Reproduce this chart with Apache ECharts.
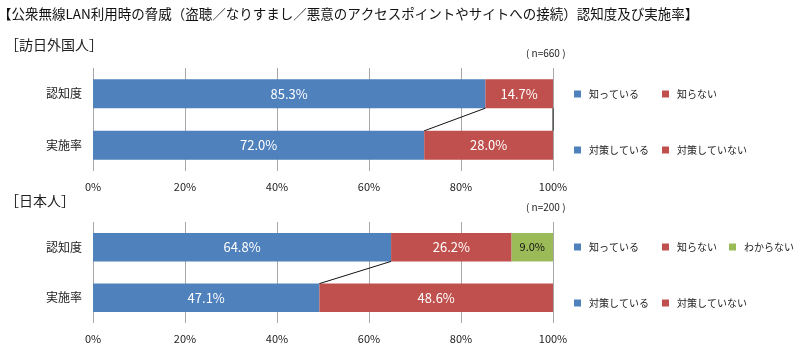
<!DOCTYPE html>
<html><head><meta charset="utf-8">
<script src="https://cdn.jsdelivr.net/npm/echarts@6/dist/echarts.min.js"></script>
<style>html,body{margin:0;padding:0;background:#fff}#c{width:800px;height:349px}</style>
</head><body><div id="c"></div>
<script>
const categories = ['認知度', '実施率'];
const xTicks = [0, 20, 40, 60, 80, 100];
// 訪日外国人 (n=660)
const foreignAwareNames = ['知っている', '知らない'];
const foreignAwareVals = [85.3, 14.7];
const foreignActionNames = ['対策している', '対策していない'];
const foreignActionVals = [72.0, 28.0];
// 日本人 (n=200)
const japanAwareNames = ['知っている', '知らない', 'わからない'];
const japanAwareVals = [64.8, 26.2, 9.0];
const japanActionNames = ['対策している', '対策していない'];
const japanActionVals = [47.1, 48.6];
// connector boundaries (segment index after which the series line is drawn)
const foreignConnect = [1, 2];
const japanConnect = [1];

const colors = {
  '知っている': '#4F81BD', '知らない': '#C0504D', 'わからない': '#9BBB59',
  '対策している': '#4F81BD', '対策していない': '#C0504D'
};
const FONT = '"Noto Sans CJK JP", "Noto Sans", sans-serif';

function shares(vals) {
  const s = vals.reduce((a, b) => a + b, 0);
  return vals.map(v => v / s * 100);
}
function cum(vals, k) {
  const sh = shares(vals);
  let t = 0; for (let i = 0; i < k; i++) t += sh[i];
  return t;
}

function rowSeries(names, vals, catIdx, gi) {
  const sh = shares(vals);
  return names.map((n, i) => {
    const data = categories.map((c, j) => j === catIdx ? { value: sh[i], raw: vals[i] } : '-');
    const green = n === 'わからない';
    return {
      type: 'bar', name: n, stack: 'g' + gi, xAxisIndex: gi, yAxisIndex: gi,
      barWidth: '56%', data: data,
      itemStyle: { color: colors[n] },
      label: {
        show: true, position: 'inside', fontFamily: FONT, fontSize: green ? 11 : 13,
        color: green ? '#111' : '#fff',
        formatter: p => p.data && p.data.raw != null ? p.data.raw.toFixed(1) + '%' : ''
      }
    };
  });
}

function connectorSeries(awareVals, actionVals, idxs, gi) {
  return {
    type: 'custom', xAxisIndex: gi, yAxisIndex: gi, z: 5, silent: true,
    encode: { x: [0, 1], y: 2 },
    data: idxs.map(k => [cum(awareVals, k), cum(actionVals, k), 0]),
    renderItem: function (params, api) {
      const p0 = api.coord([api.value(0), 0]);
      const p1 = api.coord([api.value(1), 1]);
      const half = Math.abs(p1[1] - p0[1]) * 0.28;
      return {
        type: 'line',
        shape: { x1: p0[0], y1: p0[1] + half, x2: p1[0], y2: p1[1] - half },
        style: { stroke: '#111', lineWidth: 1 }
      };
    }
  };
}

function legendItem(name, left, top) {
  return {
    data: [name], left: left, top: top, itemWidth: 7, itemHeight: 7, icon: 'rect',
    selectedMode: false, padding: 0, itemGap: 0,
    textStyle: { fontFamily: FONT, fontSize: 10, color: '#222', padding: [0, 0, 0, 3] }
  };
}

function xAxis(gi) {
  return {
    type: 'value', gridIndex: gi, min: 0, max: 100, interval: 20,
    axisLine: { show: false }, axisTick: { show: false },
    splitLine: { lineStyle: { color: '#a8a8a8', width: 1 } },
    axisLabel: { fontFamily: FONT, fontSize: 11, color: '#222', margin: 10,
      formatter: v => xTicks.indexOf(v) >= 0 ? v + '%' : '' }
  };
}
function yAxis(gi) {
  return {
    type: 'category', gridIndex: gi, data: categories, inverse: true,
    axisLine: { show: false }, axisTick: { show: false },
    axisLabel: { fontFamily: FONT, fontSize: 12, color: '#222', margin: 11 }
  };
}

const series = [].concat(
  rowSeries(foreignAwareNames, foreignAwareVals, 0, 0),
  rowSeries(foreignActionNames, foreignActionVals, 1, 0),
  [connectorSeries(foreignAwareVals, foreignActionVals, foreignConnect, 0)],
  rowSeries(japanAwareNames, japanAwareVals, 0, 1),
  rowSeries(japanActionNames, japanActionVals, 1, 1),
  [connectorSeries(japanAwareVals, japanActionVals, japanConnect, 1)]
);

const chart = echarts.init(document.getElementById('c'), null, { renderer: 'canvas' });
chart.setOption({
  animation: false,
  backgroundColor: '#fff',
  textStyle: { fontFamily: FONT },
  title: [
    { text: '【公衆無線LAN利用時の脅威（盗聴／なりすまし／悪意のアクセスポイントやサイトへの接続）認知度及び実施率】',
      left: -2, top: 7, padding: 0, textStyle: { fontFamily: FONT, fontSize: 13.5, fontWeight: 'normal', color: '#111' } },
    { text: '［訪日外国人］', left: 5, top: 38, padding: 0, textStyle: { fontFamily: FONT, fontSize: 14, fontWeight: 'normal', color: '#222' } },
    { text: '( n=660 )', left: 526, top: 48, padding: 0, textStyle: { fontFamily: FONT, fontSize: 10, fontWeight: 'normal', color: '#222' } },
    { text: '［日本人］', left: 5, top: 194, padding: 0, textStyle: { fontFamily: FONT, fontSize: 14, fontWeight: 'normal', color: '#222' } },
    { text: '( n=200 )', left: 526, top: 202, padding: 0, textStyle: { fontFamily: FONT, fontSize: 10, fontWeight: 'normal', color: '#222' } }
  ],
  legend: [
    legendItem('知っている', 574, 89),
    legendItem('知らない', 662, 89),
    legendItem('対策している', 574, 145),
    legendItem('対策していない', 662, 145),
    legendItem('知っている', 574, 242),
    legendItem('知らない', 662, 242),
    legendItem('わからない', 729, 242),
    legendItem('対策している', 574, 298),
    legendItem('対策していない', 662, 298)
  ],
  grid: [
    { left: 93, width: 460, top: 68, height: 103 },
    { left: 93, width: 460, top: 222, height: 101 }
  ],
  xAxis: [xAxis(0), xAxis(1)],
  yAxis: [yAxis(0), yAxis(1)],
  series: series
});
</script></body></html>
